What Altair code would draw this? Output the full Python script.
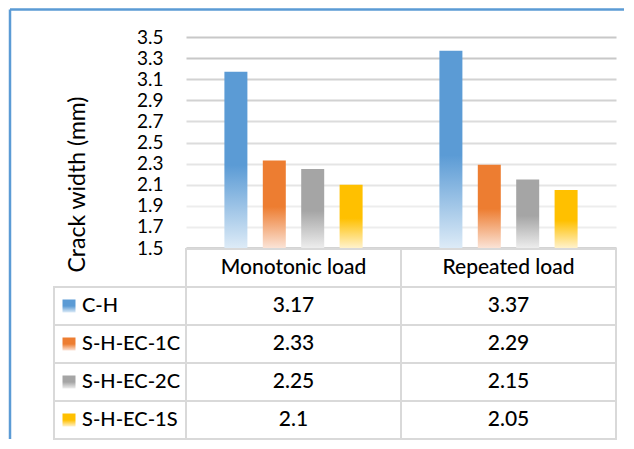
import altair as alt
import pandas as pd

SERIES = ["C-H", "S-H-EC-1C", "S-H-EC-2C", "S-H-EC-1S"]
LOADS = ["Monotonic load", "Repeated load"]
MONOTONIC = [3.17, 2.33, 2.25, 2.1]
REPEATED = [3.37, 2.29, 2.15, 2.05]
Y_TICKS = [1.5, 1.7, 1.9, 2.1, 2.3, 2.5, 2.7, 2.9, 3.1, 3.3, 3.5]
COLORS = ["#5B9BD5", "#ED7D31", "#A5A5A5", "#FFC000"]
LIGHT = ["#DDEBF7", "#FBE3D6", "#EDEDED", "#FFF2CC"]

FONT = "Lato"
BORDER = "#d9d9d9"

rows = []
for i, s in enumerate(SERIES):
    rows.append({"series": s, "load": LOADS[0], "value": MONOTONIC[i]})
    rows.append({"series": s, "load": LOADS[1], "value": REPEATED[i]})
df = pd.DataFrame(rows)
df["label"] = df["value"].map(lambda v: f"{v:g}")


def grad(c, light, mid):
    return alt.Gradient(
        gradient="linear", x1=0, x2=0, y1=0, y2=1,
        stops=[alt.GradientStop(color=c, offset=0),
               alt.GradientStop(color=c, offset=mid),
               alt.GradientStop(color=light, offset=1)])


grid_color = {
    "condition": [
        {"test": "datum.value > 3.2", "value": "#c8c8c8"},
        {"test": "datum.value > 2.8", "value": "#d2d2d2"},
        {"test": "datum.value > 2.4", "value": "#dcdcdc"},
        {"test": "datum.value > 2.0", "value": "#e5e5e5"},
    ],
    "value": "#ededed",
}

x_band = alt.Scale(domain=LOADS, paddingInner=0, paddingOuter=0)
y_axis = alt.Axis(values=Y_TICKS, format=".1f", ticks=False, domain=False,
                  labelPadding=23, labelFont=FONT, labelFontSize=19, labelColor="#000",
                  gridColor=grid_color, gridWidth=2,
                  title="Crack width (mm)", titleFont=FONT, titleFontSize=23,
                  titleFontWeight="normal", titleColor="#000", titleAngle=270,
                  titleX=-109, titleY=147, titleAlign="center", titleBaseline="middle")

bar_layers = []
for s, c, l in zip(SERIES, COLORS, LIGHT):
    bar_layers.append(
        alt.Chart(df[df.series == s]).mark_bar(color=grad(c, l, 0.53)).encode(
            x=alt.X("load:N", scale=x_band,
                    axis=alt.Axis(labels=False, ticks=False, title=None,
                                  domainColor="#d4d4d4", domainWidth=3)),
            xOffset=alt.XOffset("series:N", scale=alt.Scale(domain=SERIES, paddingInner=0.401,
                                                            paddingOuter=1)),
            y=alt.Y("value:Q", scale=alt.Scale(domain=[Y_TICKS[0], Y_TICKS[-1]], zero=False,
                                               nice=False), axis=y_axis),
            y2=alt.datum(Y_TICKS[0]),
        ))
bars = alt.layer(*bar_layers).properties(width=430, height=211)

# table
ROWS = ["header"] + SERIES
hdr = pd.DataFrame({"load": LOADS, "row": ["header"] * len(LOADS), "text": LOADS})
body = pd.DataFrame({"load": df["load"], "row": df["series"], "text": df["label"]})
grid_df = pd.concat([hdr, body], ignore_index=True)
y_rows = alt.Scale(domain=ROWS, paddingInner=0, paddingOuter=0)

cells = alt.Chart(grid_df).mark_rect(fill="white", stroke=BORDER, strokeWidth=2).encode(
    x=alt.X("load:N", scale=x_band, axis=None),
    y=alt.Y("row:N", scale=y_rows, axis=None))
texts = alt.Chart(grid_df).mark_text(font=FONT, fontSize=21, fontWeight=500, color="#000").encode(
    x=alt.X("load:N", scale=x_band, axis=None),
    y=alt.Y("row:N", scale=y_rows, axis=None),
    text="text:N")
grid = alt.layer(cells, texts).properties(width=430, height=190)

leg_df = pd.DataFrame({"row": SERIES})
leg_cells = alt.Chart(leg_df).mark_rect(fill="white", stroke=BORDER, strokeWidth=2).encode(
    y=alt.Y("row:N", scale=y_rows, axis=None))
leg_text = alt.Chart(leg_df).mark_text(align="left", font=FONT, fontSize=20, fontWeight=500,
                                       color="#000").encode(
    x=alt.value(28), y=alt.Y("row:N", scale=y_rows, axis=None), text="row:N")
leg_sq = []
for s, c, l in zip(SERIES, COLORS, LIGHT):
    leg_sq.append(alt.Chart(leg_df[leg_df.row == s]).mark_square(
        size=169, color=grad(c, l, 0.5), opacity=1).encode(
        x=alt.value(15), y=alt.Y("row:N", scale=y_rows, axis=None)))
legend = alt.layer(leg_cells, leg_text, *leg_sq).properties(width=132, height=190)

# chart frame (Excel chart-area border)
frame_src = pd.DataFrame({"k": [0]})
vline = alt.Chart(frame_src).mark_rule(color="#5B9BD5", strokeWidth=2.5).encode(
    x=alt.value(-44), y=alt.value(-27.5), y2=alt.value(402))
hline = alt.Chart(frame_src).mark_rule(color="#5B9BD5", strokeWidth=2.5).encode(
    x=alt.value(-44), x2=alt.value(570), y=alt.value(-27.5))
corner = alt.layer(vline, hline).properties(width=132, height=211)

chart = alt.concat(corner, bars, legend, grid, columns=2,
                   spacing={"row": 1, "column": 0}, bounds="flush", align="each"
                   ).properties(padding=0).configure_view(strokeOpacity=0)

chart.save("out.html", embed_options={"renderer": "svg", "actions": False})
